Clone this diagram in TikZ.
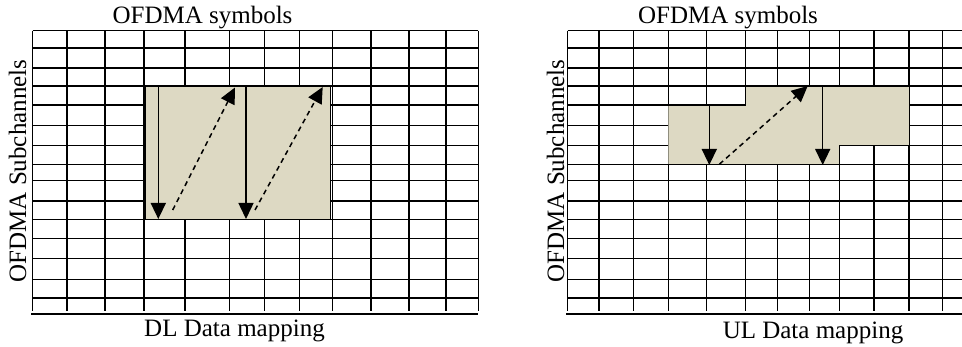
\documentclass[tikz,border=0pt]{standalone}
\usepackage{fontspec}
\setmainfont{Liberation Serif}
\usetikzlibrary{arrows.meta}
\definecolor{tan}{HTML}{DDD9C3}
\tikzset{
  gridline/.style={line width=1.5pt,black},
  axisline/.style={line width=1.8pt,black},
  shadefill/.style={fill=tan},
  solidarrow/.style={line width=1.5pt,-{Triangle[length=16pt,width=15pt]}},
  dasharrow/.style={line width=1.5pt,dash pattern=on 5pt off 4pt,-{Triangle[length=16pt,width=15pt]}},
  lbl/.style={font=\fontsize{25}{30}\selectfont,inner sep=0pt,anchor=base},
}
\begin{document}
\begin{tikzpicture}[x=1pt,y=-1pt]
\useasboundingbox (0,0) rectangle (962,347);
% ---------- left panel grid ----------
\foreach \x in {32.5,67,105,144,185,229.5,264.5,299.5,332.5,371,409,446}
  \draw[gridline] (\x,30.7) -- (\x,311);
\draw[line width=1pt] (478,30.7) -- (478,311);
\foreach \y in {30.7,48,68,86,105,125.5,145.7,164.7,180.3,201.2,219.7,238.3,258.7,279.3,297.9}
  \draw[gridline] (32.5,\y) -- (478,\y);
\draw[axisline] (31,314) -- (478,314);
% ---------- right panel grid ----------
\foreach \x in {567.5,599,633.7,668.3,706.3,745.5,777.7,809.5,839.5,874.2,908.8,942.7}
  \draw[gridline] (\x,30.7) -- (\x,311);
\foreach \y in {30.7,48,68,86,105,125.5,145.7,164.7,180.3,201.2,219.7,238.3,258.7,279.3,297.9}
  \draw[gridline] (567.5,\y) -- (962,\y);
\draw[axisline] (566,314) -- (962,314);
% ---------- left allocation ----------
\draw[shadefill,line width=1.5pt] (145.5,86) rectangle (330.5,219.5);
\coordinate (a1s) at (158.3,86);   \coordinate (a1e) at (158.3,219);
\coordinate (d1s) at (172.7,210);  \coordinate (d1e) at (235,87.5);
\coordinate (a2s) at (246,86);     \coordinate (a2e) at (246,219);
\coordinate (d2s) at (255,210);    \coordinate (d2e) at (322.7,87);
\draw[solidarrow] (a1s) -- (a1e);
\draw[dasharrow] (d1s) -- (d1e);
\draw[solidarrow] (a2s) -- (a2e);
\draw[dasharrow] (d2s) -- (d2e);
% ---------- right allocation ----------
\fill[tan] (668.3,105) -- (745.5,105) -- (745.5,86) -- (908.8,86) -- (908.8,145.7)
  -- (839.5,145.7) -- (839.5,164.7) -- (668.3,164.7) -- cycle;
\draw[gridline] (668.3,105) -- (745.5,105) -- (745.5,86) -- (908.8,86);
\draw[gridline] (908.8,145.7) -- (839.5,145.7) -- (839.5,164.7) -- (668.3,164.7);
\coordinate (b1s) at (709.3,105);  \coordinate (b1e) at (709.3,165);
\coordinate (e1s) at (719.3,164.3);\coordinate (e1e) at (807.7,86);
\coordinate (b2s) at (822.7,86);   \coordinate (b2e) at (822.7,165);
\draw[solidarrow] (b1s) -- (b1e);
\draw[dasharrow] (e1s) -- (e1e);
\draw[solidarrow] (b2s) -- (b2e);
% ---------- labels ----------
\node[lbl] (symL) at (202.5,24) {OFDMA symbols};
\node[lbl] (mapL) at (234.5,337) {DL Data mapping};
\node[lbl,rotate=90] (subL) at (26,171) {OFDMA Subchannels};
\node[lbl] (symR) at (728,24) {OFDMA symbols};
\node[lbl] (mapR) at (813,339) {UL Data mapping};
\node[lbl,rotate=90] (subR) at (564,171) {OFDMA Subchannels};
\end{tikzpicture}
\end{document}
